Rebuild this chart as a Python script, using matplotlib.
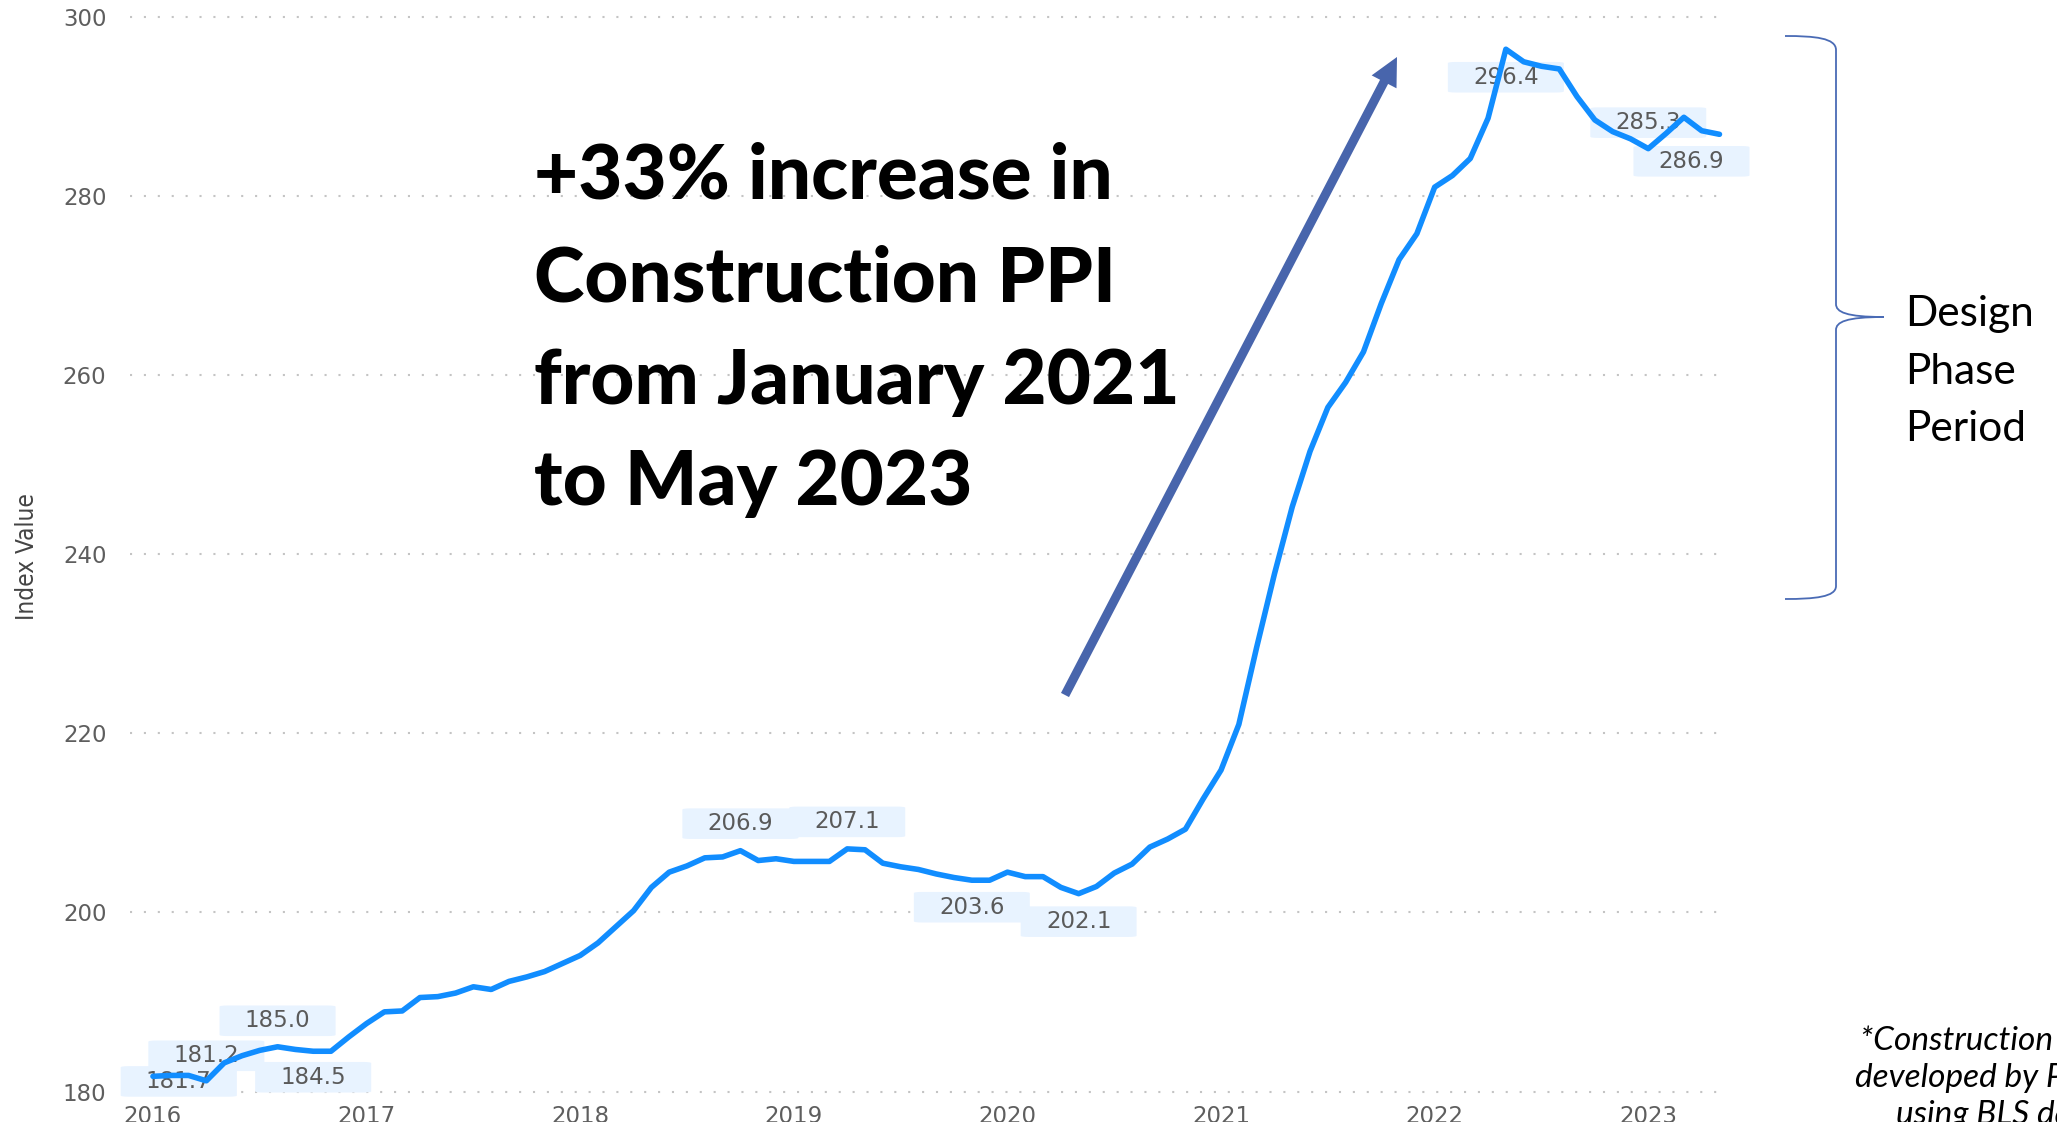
import numpy as np
import matplotlib
matplotlib.use("Agg")
import matplotlib.pyplot as plt
from matplotlib.path import Path
from matplotlib.patches import PathPatch, Polygon
from matplotlib.lines import Line2D

# ---------------- data ----------------
start_year = 2016
ppi_values = [
    181.7, 181.8, 181.8, 181.2, 183.2, 184.0, 184.6, 185.0, 184.7, 184.5, 184.5, 186.1,   # 2016
    187.6, 188.9, 189.0, 190.5, 190.6, 191.0, 191.7, 191.4, 192.3, 192.8, 193.4, 194.3,   # 2017
    195.2, 196.6, 198.4, 200.2, 202.8, 204.5, 205.2, 206.1, 206.2, 206.9, 205.8, 206.0,   # 2018
    205.7, 205.7, 205.7, 207.1, 207.0, 205.5, 205.1, 204.8, 204.3, 203.9, 203.6, 203.6,   # 2019
    204.5, 204.0, 204.0, 202.8, 202.1, 202.9, 204.4, 205.4, 207.3, 208.2, 209.3, 212.7,   # 2020
    215.9, 221.0, 229.6, 237.8, 245.3, 251.5, 256.4, 259.2, 262.6, 268.0, 272.9, 275.8,   # 2021
    281.0, 282.3, 284.2, 288.7, 296.4, 295.0, 294.5, 294.2, 291.1, 288.5, 287.2, 286.4,   # 2022
    285.3, 287.0, 288.8, 287.3, 286.9,                                                    # 2023
]
year_ticks = [2016, 2017, 2018, 2019, 2020, 2021, 2022, 2023]
y_ticks = [180, 200, 220, 240, 260, 280, 300]
# data labels: (month index, text, dx px, dy px)
label_months = [1, 3, 7, 9, 33, 39, 46, 52, 76, 84, 88]
label_texts = ["181.7", "181.2", "185.0", "184.5", "206.9", "207.1",
               "203.6", "202.1", "296.4", "285.3", "286.9"]
label_dx = [8, 0, 0, 0, 0, 0, 0, 0, 0, 0, -28]
label_dy = [-6, 25, 26, -26, 27, 27, -27, -28, -28, 26, -27]

headline = ["+33% increase in", "Construction PPI", "from January 2021", "to May 2023"]
bracket_lines = ["Design", "Phase", "Period"]
footnote = ["*Construction PPI Index", "developed by Power BI", "using BLS data"]

# ---------------- figure ----------------
W, H = 2057, 1122
fig = plt.figure(figsize=(W / 100, H / 100), dpi=100)
fig.patch.set_facecolor("white")

ax_left, ax_right = 130, 1725
ax_top, ax_bottom = 8.05, 1100.5
ax = fig.add_axes([ax_left / W, 1 - ax_bottom / H, (ax_right - ax_left) / W, (ax_bottom - ax_top) / H])

x = start_year + np.arange(len(ppi_values)) / 12.0
ax.plot(x, ppi_values, color="#118DFF", lw=4.0, solid_joinstyle="round",
        solid_capstyle="round", zorder=3)

ax.set_xlim(start_year - 1.29 / 12, start_year + 88.31 / 12)
ax.set_ylim(179, 301)
ax.set_yticks(y_ticks)
ax.set_xticks(year_ticks)
ax.set_xticklabels([str(y) for y in year_ticks])
for s in ax.spines.values():
    s.set_visible(False)
ax.tick_params(axis="both", length=0, labelsize=16.5, labelcolor="#5E5E5E")
ax.tick_params(axis="y", pad=17)
ax.tick_params(axis="x", pad=3.5)
ax.yaxis.grid(True, color="#C4C4C4", linestyle=(0, (1, 5.67)), linewidth=1.5)
ax.xaxis.grid(False)
ax.set_axisbelow(True)

# data labels
for m, t, dx, dy in zip(label_months, label_texts, label_dx, label_dy):
    ax.annotate(t, xy=(x[m], ppi_values[m]), xytext=(dx, dy), textcoords="offset pixels",
                ha="center", va="center", fontsize=16.5, color="#5A5A5A",
                annotation_clip=False, zorder=2,
                bbox=dict(boxstyle="round,pad=1.1,rounding_size=0.35", fc="#E8F3FF",
                          ec="none", mutation_aspect=0.15))

fig.text(27 / W, 1 - 557 / H, "Index Value", rotation=90, ha="center", va="center",
         fontsize=17.5, color="#444444", family=["DejaVu Sans"], fontstretch="condensed")

# headline text
base_y = [198.8, 301.6, 403.6, 505.0]
for line, by in zip(headline, base_y):
    fig.text(534 / W, 1 - by / H, line, ha="left", va="baseline", fontsize=55,
             fontweight="black", family=["Lato", "DejaVu Sans"], color="black")

# arrow (figure pixels, measured from top)
tail = np.array([1065.0, 695.0])
tip = np.array([1397.0, 57.0])
u = (tip - tail) / np.linalg.norm(tip - tail)
perp = np.array([-u[1], u[0]])
head_len, head_half = 28.0, 14.0
base = tip - head_len * u
def fp(p):
    return (p[0], H - p[1])
shaft = Line2D([tail[0], base[0] + 2 * u[0]], [H - tail[1], H - (base[1] + 2 * u[1])],
               transform=None, color="#4865AC", lw=6.5, solid_capstyle="butt")
fig.add_artist(shaft)
head = Polygon([fp(tip), fp(base + head_half * perp), fp(base - head_half * perp)],
               closed=True, transform=None, fc="#4865AC", ec="none")
fig.add_artist(head)

# curly bracket
verts = [
    (1785, 36), (1815, 36), (1836, 38), (1836, 50),
    (1836, 304),
    (1836, 312), (1846, 317), (1884, 317),
    (1846, 317), (1836, 322), (1836, 330),
    (1836, 586),
    (1836, 597), (1815, 599), (1785, 599),
]
codes = [Path.MOVETO, Path.CURVE4, Path.CURVE4, Path.CURVE4,
         Path.LINETO,
         Path.CURVE4, Path.CURVE4, Path.CURVE4,
         Path.CURVE4, Path.CURVE4, Path.CURVE4,
         Path.LINETO,
         Path.CURVE4, Path.CURVE4, Path.CURVE4]
verts_fig = [(vx, H - vy) for vx, vy in verts]
brace = PathPatch(Path(verts_fig, codes), transform=None, fc="none", ec="#4A6BB5", lw=1.3)
fig.add_artist(brace)

for line, by in zip(bracket_lines, [326, 383.5, 441]):
    fig.text(1905 / W, 1 - by / H, line, ha="left", va="baseline", fontsize=30.5,
             family=["Lato", "DejaVu Sans"], color="black")

for line, by, lx in zip(footnote, [1050, 1087, 1124], [1860, 1855, 1896]):
    fig.text(lx / W, 1 - by / H, line, ha="left", va="baseline", fontsize=24,
             style="italic", family=["Lato", "DejaVu Sans"], color="black")

fig.savefig("out.png", dpi=100, facecolor="white")
